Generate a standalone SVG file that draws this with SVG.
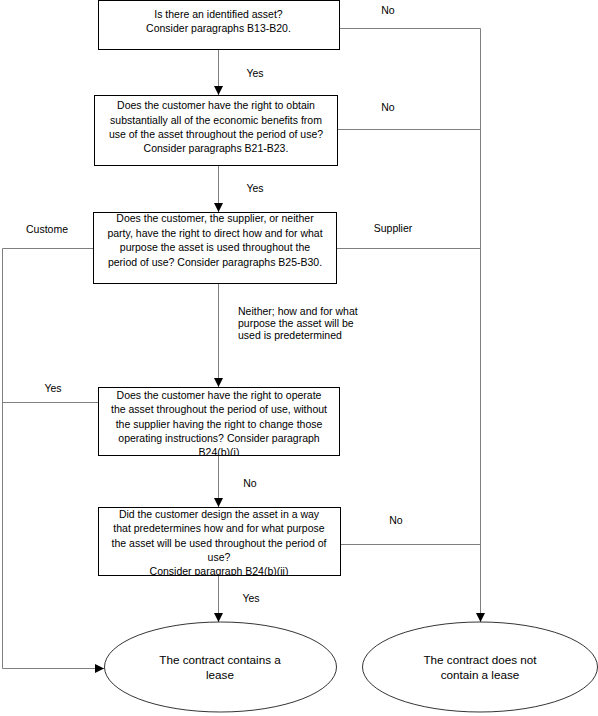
<svg xmlns="http://www.w3.org/2000/svg" width="598" height="716" viewBox="0 0 598 716">
<style>
text{font-family:"Liberation Sans",Arial,sans-serif;font-size:10.5px;fill:#000}
.c{text-anchor:middle}
.e{font-size:11.7px}
.box{fill:#fff;stroke:#000;stroke-width:1}
.ell{fill:#fff;stroke:#000;stroke-width:0.8}
.ln{fill:none;stroke:#7f7f7f;stroke-width:1}
.ar{fill:none;stroke:#7f7f7f;stroke-width:1;marker-end:url(#ah)}
</style>
<defs>
<marker id="ah" viewBox="0 0 10 10" refX="10" refY="5" markerWidth="9" markerHeight="9" markerUnits="userSpaceOnUse" orient="auto">
<path d="M0,0 L10,5 L0,10 z" fill="#000"/>
</marker>
<clipPath id="cb4"><rect x="98" y="387" width="242" height="69"/></clipPath>
<clipPath id="cb5"><rect x="98" y="507" width="243" height="69"/></clipPath>
</defs>
<rect width="598" height="716" fill="#fff"/>
<g id="connectors">
<path class="ar" d="M218.5,50 V95"/>
<path class="ar" d="M218.5,166 V212"/>
<path class="ar" d="M218.5,284 V387"/>
<path class="ar" d="M218.5,456 V507"/>
<path class="ar" d="M218.5,576 V622"/>
<path class="ar" d="M339,28.5 H480.5 V622"/>
<path class="ln" d="M337,129.5 H480.5"/>
<path class="ln" d="M337,248.5 H480.5"/>
<path class="ln" d="M341,544.5 H480.5"/>
<path class="ar" d="M93,248.5 H2.5 V668.5 H104"/>
<path class="ln" d="M98,402.5 H2.5"/>
<text x="388" y="14" class="c">No</text>
<text x="255" y="77" class="c">Yes</text>
<text x="388" y="111" class="c">No</text>
<text x="255" y="192" class="c">Yes</text>
<text x="47" y="233" class="c">Custome</text>
<text x="393" y="232" class="c">Supplier</text>
<text x="238" y="315">Neither; how and for what</text>
<text x="238" y="327">purpose the asset will be</text>
<text x="238" y="339">used is predetermined</text>
<text x="53" y="392" class="c">Yes</text>
<text x="250" y="487" class="c">No</text>
<text x="396" y="524" class="c">No</text>
<text x="251" y="602" class="c">Yes</text>
</g>
<g id="n1">
<rect class="box" x="98.5" y="0.5" width="241" height="49"/>
<text x="218.5" y="18" class="c">Is there an identified asset?</text>
<text x="218.5" y="32" class="c">Consider paragraphs B13-B20.</text>
</g>
<g id="n2">
<rect class="box" x="94.5" y="95.5" width="243" height="70"/>
<text x="216" y="109" class="c">Does the customer have the right to obtain</text>
<text x="216" y="124" class="c">substantially all of the economic benefits from</text>
<text x="216" y="138" class="c">use of the asset throughout the period of use?</text>
<text x="216" y="152" class="c">Consider paragraphs B21-B23.</text>
</g>
<g id="n3">
<rect class="box" x="93.5" y="212.5" width="243" height="71"/>
<text x="215" y="222" class="c">Does the customer, the supplier, or neither</text>
<text x="215" y="237" class="c">party, have the right to direct how and for what</text>
<text x="215" y="251" class="c">purpose the asset is used throughout the</text>
<text x="215" y="266" class="c">period of use? Consider paragraphs B25-B30.</text>
</g>
<g id="n4">
<rect class="box" x="98.5" y="387.5" width="241" height="68"/>
<g clip-path="url(#cb4)">
<text x="219" y="399" class="c">Does the customer have the right to operate</text>
<text x="219" y="413" class="c">the asset throughout the period of use, without</text>
<text x="219" y="428" class="c">the supplier having the right to change those</text>
<text x="219" y="442" class="c">operating instructions? Consider paragraph</text>
<text x="219" y="456" class="c">B24(b)(i)</text>
</g>
</g>
<g id="n5">
<rect class="box" x="98.5" y="507.5" width="242" height="68"/>
<g clip-path="url(#cb5)">
<text x="219" y="518" class="c">Did the customer design the asset in a way</text>
<text x="219" y="532" class="c">that predetermines how and for what purpose</text>
<text x="219" y="547" class="c">the asset will be used throughout the period of</text>
<text x="219" y="561" class="c">use?</text>
<text x="219" y="575" class="c">Consider paragraph B24(b)(ii)</text>
</g>
</g>
<g id="n6">
<ellipse class="ell" cx="220.5" cy="667" rx="116" ry="45"/>
<text x="220" y="664" class="c e">The contract contains a</text>
<text x="220" y="679" class="c e">lease</text>
</g>
<g id="n7">
<ellipse class="ell" cx="480" cy="667" rx="117.5" ry="45"/>
<text x="480" y="664" class="c e">The contract does not</text>
<text x="480" y="679" class="c e">contain a lease</text>
</g>
</svg>
